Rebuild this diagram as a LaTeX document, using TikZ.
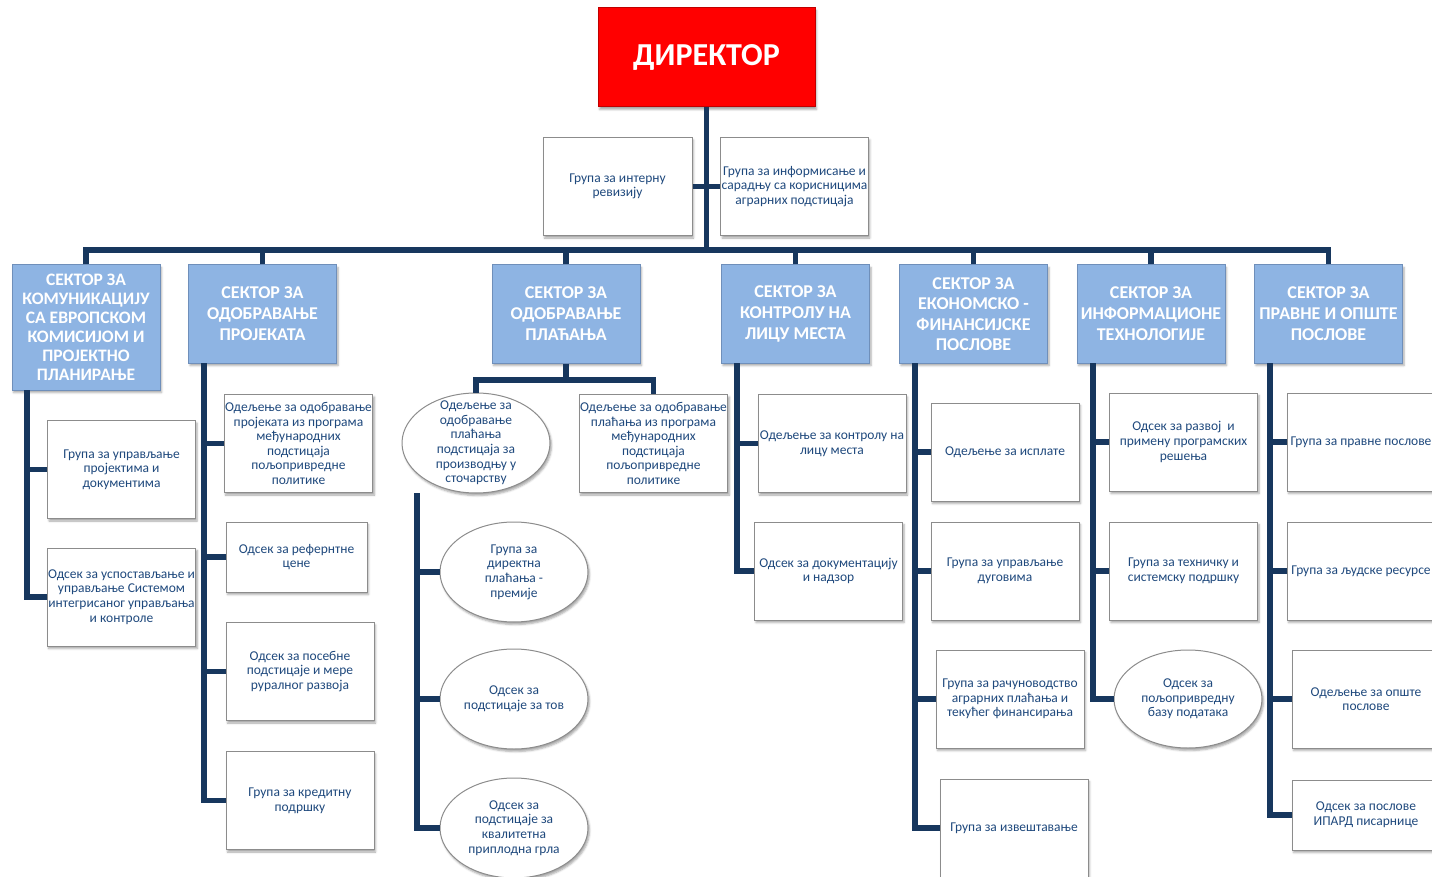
\documentclass[tikz,border=0pt]{standalone}
\usepackage{fontspec}
\setmainfont{Carlito}
\usetikzlibrary{shapes.geometric,shadows.blur}
\definecolor{navy}{HTML}{17375E}
\definecolor{txtblue}{HTML}{1F497D}
\definecolor{secfill}{HTML}{8EB4E3}
\definecolor{secdraw}{HTML}{6F8FBA}
\definecolor{boxdraw}{HTML}{8C8C8C}
\definecolor{dirdraw}{HTML}{C00000}

\begin{document}
\begin{tikzpicture}[x=1pt,y=-1pt,
        shade/.style={blur shadow={shadow xshift=1.5pt,shadow yshift=-2.5pt,shadow blur radius=2pt,shadow opacity=35}},
        box/.style={rectangle,draw=boxdraw,line width=1pt,fill=white,text=txtblue,align=center,inner sep=1pt,
                minimum width=148pt,minimum height=98pt,font=\fontsize{13.5}{14.6}\selectfont,shade},
        oval/.style={box,ellipse,minimum height=100pt,inner xsep=0pt,inner ysep=-12pt},
        sec/.style={box,draw=secdraw,fill=secfill,text=white,font=\fontsize{18}{21}\selectfont\bfseries},
        conn/.style={draw=navy,line width=5.5pt}]
        \useasboundingbox (0,0) rectangle (1432,877);
        \clip (0,0) rectangle (1432,877);

        \begin{scope}
                \node [box,fill=red,draw=dirdraw,text=white,minimum width=217pt,minimum height=99pt,
                        font=\fontsize{32}{38}\selectfont\bfseries] (dir) at (706.5,57.5) {ДИРЕКТОР};
                \node [box,minimum width=149pt] (rev) at (617.5,186.5) {Група за интерну\\ревизију};
                \node [box,minimum width=147pt] (inf) at (794.5,186.5) {Група за информисање и\\сарадњу са корисницима\\аграрних подстицаја};

                \node [sec,minimum height=125pt,font=\fontsize{17.5}{19}\selectfont\bfseries] (s1) at (86,327.5)
                        {СЕКТОР ЗА\\КОМУНИКАЦИЈУ\\СА ЕВРОПСКОМ\\КОМИСИЈОМ И\\ПРОЈЕКТНО\\ПЛАНИРАЊЕ};
                \node [sec] (s2) at (262.5,314) {СЕКТОР ЗА\\ОДОБРАВАЊЕ\\ПРОЈЕКАТА};
                \node [sec] (s3) at (566,314) {СЕКТОР ЗА\\ОДОБРАВАЊЕ\\ПЛАЋАЊА};
                \node [sec] (s4) at (795.5,314) {СЕКТОР ЗА\\КОНТРОЛУ НА\\ЛИЦУ МЕСТА};
                \node [sec,font=\fontsize{18}{20.5}\selectfont\bfseries] (s5) at (973.5,314) {СЕКТОР ЗА\\ЕКОНОМСКО -\\ФИНАНСИЈСКЕ\\ПОСЛОВЕ};
                \node [sec] (s6) at (1151,314) {СЕКТОР ЗА\\ИНФОРМАЦИОНЕ\\ТЕХНОЛОГИЈЕ};
                \node [sec] (s7) at (1328.5,314) {СЕКТОР ЗА\\ПРАВНЕ И ОПШТЕ\\ПОСЛОВЕ};
        \end{scope}

        \begin{scope}
                \node [box] (g11) at (121.5,469.5) {Група за управљање\\пројектима и\\документима};
                \node [box] (g12) at (121.5,597) {Одсек за успостављање и\\управљање Системом\\интегрисаног управљања\\и контроле};

                \node [box] (g21) at (298.5,443.5) {Одељење за одобравање\\пројеката из програма\\међународних\\подстицаја\\пољопривредне\\политике};
                \node [box,minimum width=141pt,minimum height=70pt] (g22) at (296.5,557) {Одсек за рефернтне\\цене};
                \node [box] (g23) at (300,671.5) {Одсек за посебне\\подстицаје и мере\\руралног развоја};
                \node [box] (g24) at (300,800.5) {Група за кредитну\\подршку};

                \node [oval] (g31) at (476,443) {Одељење за\\одобравање\\плаћања\\подстицаја за\\производњу у\\сточарству};
                \node [box] (g32) at (653.5,443.5) {Одељење за одобравање\\плаћања из програма\\међународних\\подстицаја\\пољопривредне\\политике};
                \node [oval] (g33) at (514,572) {Група за\\директна\\плаћања -\\премије};
                \node [oval] (g34) at (514,699) {Одсек за\\подстицаје за тов};
                \node [oval] (g35) at (514,828) {Одсек за\\подстицаје за\\квалитетна\\приплодна грла};

                \node [box] (g41) at (832,443.5) {Одељење за контролу на\\лицу места};
                \node [box] (g42) at (828.5,571) {Одсек за документацију\\и надзор};

                \node [box] (g51) at (1005,452) {Одељење за исплате};
                \node [box] (g52) at (1005,571) {Група за управљање\\дуговима};
                \node [box] (g53) at (1010,699) {Група за рачуноводство\\аграрних плаћања и\\текућег финансирања};
                \node [box] (g54) at (1014,828) {Група за извештавање};

                \node [box] (g61) at (1183.5,442) {Одсек за развој \ и\\примену програмских\\решења};
                \node [box] (g62) at (1183.5,571) {Група за техничку и\\системску подршку};
                \node [oval,minimum height=98pt] (g63) at (1188,699) {Одсек за\\пољопривредну\\базу података};

                \node [box] (g71) at (1361,442) {Група за правне послове};
                \node [box] (g72) at (1361,571) {Група за људске ресурсе};
                \node [box] (g73) at (1366,699) {Одељење за опште\\послове};
                \node [box,minimum height=70pt] (g74) at (1366,815) {Одсек за послове\\ИПАРД писарнице};
        \end{scope}

        \begin{scope}
                \coordinate (bus) at (0,250);
                \coordinate (j3) at (566,380);
                \coordinate (t1) at (27,390);
                \coordinate (t2) at (204,363);
                \coordinate (t3) at (417,493);
                \coordinate (t4) at (737,363);
                \coordinate (t5) at (915,363);
                \coordinate (t6) at (1093,363);
                \coordinate (t7) at (1270,363);

                \draw [conn] (dir.south) -- (dir.south |- bus);
                \draw [conn] (rev) -- (inf);
                \draw [conn] (s1.north) |- (s7.north |- bus) -- (s7.north);
                \foreach \s in {s2,s3,s4,s5,s6}
                        \draw [conn] (\s.north) -- (\s.north |- bus);

                \draw [conn] (s3.south) -- (j3);
                \draw [conn] (g31.north) |- (j3) -| (g32.north);

                \foreach \c in {g11,g12} \draw [conn] (t1) |- (\c.west);
                \foreach \c in {g21,g22,g23,g24} \draw [conn] (t2) |- (\c.west);
                \foreach \c in {g33,g34,g35} \draw [conn] (t3) |- (\c.west);
                \foreach \c in {g41,g42} \draw [conn] (t4) |- (\c.west);
                \foreach \c in {g51,g52,g53,g54} \draw [conn] (t5) |- (\c.west);
                \foreach \c in {g61,g62,g63} \draw [conn] (t6) |- (\c.west);
                \foreach \c in {g71,g72,g73,g74} \draw [conn] (t7) |- (\c.west);
        \end{scope}
\end{tikzpicture}
\end{document}
